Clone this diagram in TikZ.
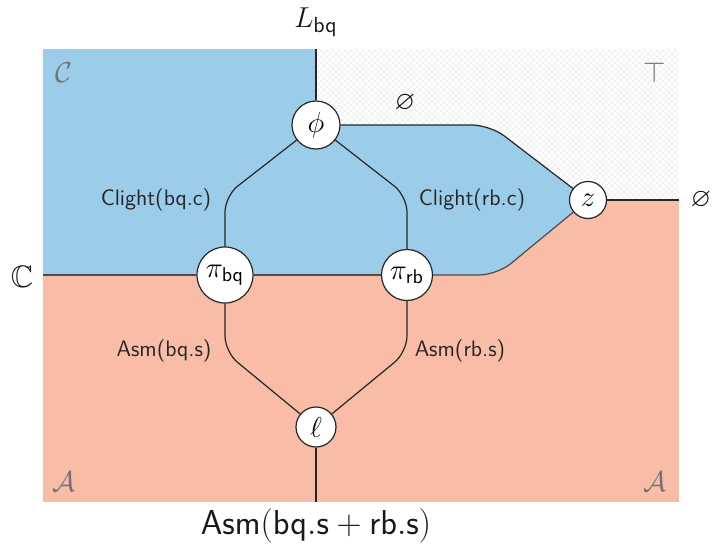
\documentclass[tikz,border=0pt]{standalone}
\usepackage{amssymb}
\usetikzlibrary{patterns}
\definecolor{cblue}{RGB}{155,205,235}
\definecolor{csalmon}{RGB}{248,188,167}
\begin{document}
\begin{tikzpicture}[x=0.5pt,y=-0.5pt,
  wire/.style={line width=0.6pt,black!85},
  edge/.style={line width=0.6pt,black!70},
  dot/.style={circle,draw=black!85,line width=0.6pt,fill=white,inner sep=0pt,font=\fontsize{14}{16}\selectfont},
  lbl/.style={font=\sffamily\fontsize{11.2}{13}\selectfont,text=black!85},
  big/.style={font=\fontsize{15.5}{18}\selectfont,text=black!90},
  corner/.style={font=\fontsize{13.5}{15}\selectfont,text=black!55}]
\useasboundingbox (0,0) rectangle (713,546);
% regions
\fill[csalmon] (43,49) rectangle (679,502);
\fill[white] (316,49) rectangle (679,200);
\fill[pattern=crosshatch,pattern color=black!5] (316,49) rectangle (679,200);
\fill[cblue] (43,49) -- (316,49) -- (316,125) [rounded corners=9] -- (490,125) -- (588,200) -- (497,275) [sharp corners] -- (43,275) -- cycle;
% coordinates
\coordinate (top) at (316,49);
\coordinate (k1) at (490,125);
\coordinate (k2) at (497,275);
\coordinate (left) at (43,275);
\coordinate (right) at (679,200);
\coordinate (a1) at (225,196);
\coordinate (a2) at (407,196);
\coordinate (b1) at (225,352);
\coordinate (b2) at (407,352);
\coordinate (bot) at (316,502);
% nodes
\node[dot,minimum size=24pt] (phi) at (316,125) {$\phi$};
\node[dot,minimum size=28pt] (pibq) at (225,275) {$\pi_{\mathsf{bq}}$};
\node[dot,minimum size=25.5pt] (pirb) at (407,275) {$\pi_{\mathsf{rb}}$};
\node[dot,minimum size=18.5pt] (z) at (588,200) {$z$};
\node[dot,minimum size=20pt] (ell) at (316,427) {$\ell$};
% wires
\draw[wire] (phi) -- (top);
\draw[wire,rounded corners=9] (phi) -- (k1) -- (z);
\draw[edge,rounded corners=9] (z) -- (k2) -- (pirb);
\draw[edge] (pirb) -- (pibq);
\draw[edge] (pibq) -- (left);
\draw[wire] (z) -- (right);
\draw[wire,rounded corners=8] (phi) -- (a1) -- (pibq);
\draw[wire,rounded corners=8] (phi) -- (a2) -- (pirb);
\draw[wire,rounded corners=8] (pibq) -- (b1) -- (ell);
\draw[wire,rounded corners=8] (pirb) -- (b2) -- (ell);
\draw[wire] (ell) -- (bot);
% labels
\node[lbl] (l1) at (156,200) {Clight(bq.c)};
\node[lbl] (l2) at (472,200) {Clight(rb.c)};
\node[lbl] (l3) at (164,351) {Asm(bq.s)};
\node[lbl] (l4) at (460,351) {Asm(rb.s)};
\node[font=\fontsize{13}{15}\selectfont] (e1) at (405,103) {$\varnothing$};
\node[font=\fontsize{13}{15}\selectfont] (e2) at (701,200) {$\varnothing$};
\node[big] (lbq) at (316,22) {$L_{\mathsf{bq}}$};
\node[big,font=\fontsize{17.5}{20}\selectfont] (asm) at (316,526) {$\mathsf{Asm}(\mathsf{bq.s}+\mathsf{rb.s})$};
\node[big] (cc) at (22,277) {$\mathbb{C}$};
\node[corner] (c1) at (64,73) {$\mathcal{C}$};
\node[corner] (c2) at (655,73) {$\top$};
\node[corner] (c3) at (64,482) {$\mathcal{A}$};
\node[corner] (c4) at (655,482) {$\mathcal{A}$};
\end{tikzpicture}
\end{document}
